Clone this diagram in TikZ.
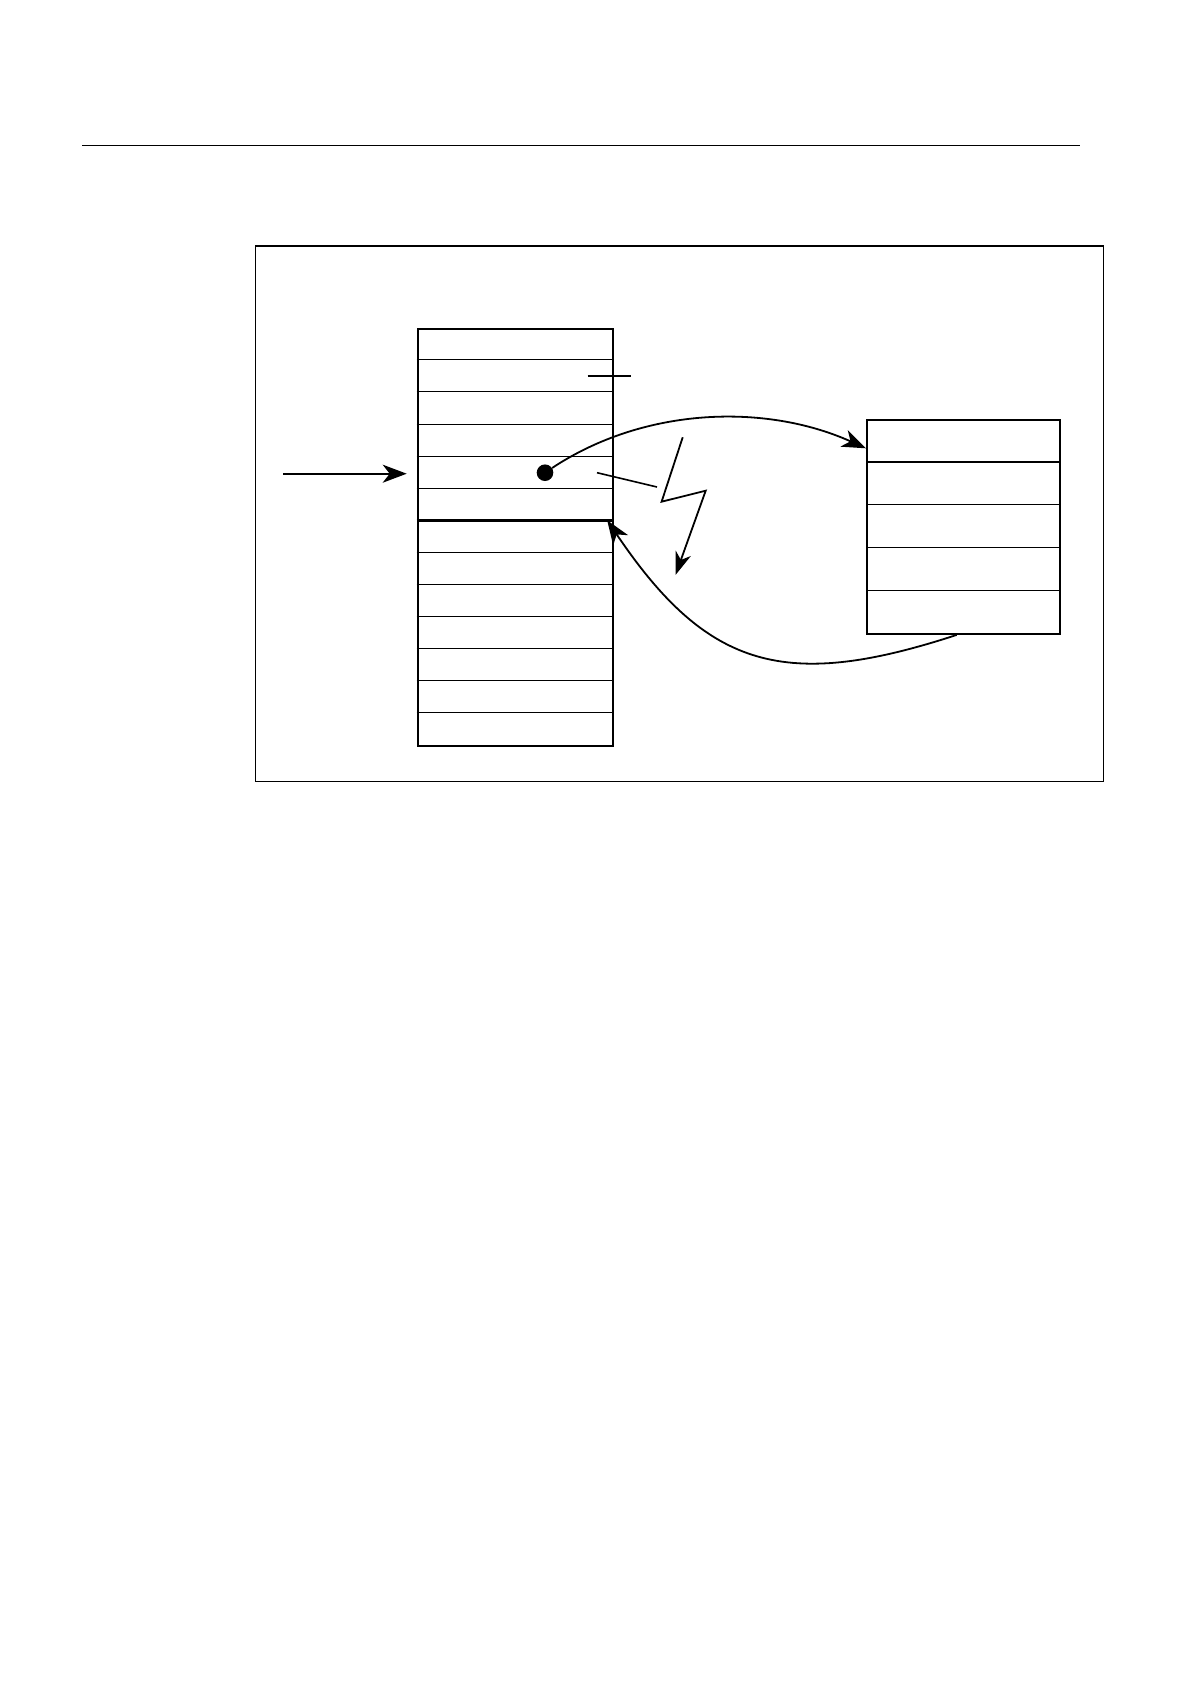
\documentclass[tikz,border=0pt]{standalone}
\usetikzlibrary{arrows.meta}
\begin{document}
\begin{tikzpicture}[x=1pt,y=-1pt,
  boxframe/.style={draw, line width=2.2pt, inner sep=0pt, anchor=north west},
  rowline/.style={line width=1.2pt},
  thickrow/.style={line width=2.4pt},
  conn/.style={line width=1.8pt, -{Stealth[length=24pt,width=18pt,inset=7pt]}},
  plain/.style={line width=1.6pt}
]
\useasboundingbox (0,0) rectangle (1190,1684);
% top rule
\coordinate (ruleL) at (82.3,145.5);
\coordinate (ruleR) at (1080,145.5);
\draw[line width=1.5pt] (ruleL) -- (ruleR);
% outer frame
\node[draw, line width=1.3pt, inner sep=0pt, minimum width=847.7pt, minimum height=535.7pt, anchor=north west] (frame) at (255,245.3) {};
% left stack
\node[boxframe, minimum width=195pt, minimum height=416.7pt] (stack) at (416.7,328) {};
\foreach \y in {31.5,63.5,96.5,128.5,160.5,224.5,256.5,288.5,320.5,352.5,384.5}
  \draw[rowline] ([yshift=-\y pt]stack.north west) -- ([yshift=-\y pt]stack.north east);
\draw[thickrow] ([yshift=-192.5pt]stack.north west) -- ([yshift=-192.5pt]stack.north east);
% right box
\node[boxframe, minimum width=193pt, minimum height=213.7pt] (reg) at (866,419) {};
\foreach \y in {85.5,128.5,171.5}
  \draw[rowline] ([yshift=-\y pt]reg.north west) -- ([yshift=-\y pt]reg.north east);
\draw[thickrow] ([yshift=-42.74pt]reg.north west) -- ([yshift=-42.74pt]reg.north east);
% input arrow
\coordinate (inS) at (283.3,473.7);
\coordinate (inE) at (406.7,473.7);
\draw[conn, line width=2pt] (inS) -- (inE);
% dot
\node[circle, fill=black, minimum size=16.6pt, inner sep=0pt] (dot) at (545,472.7) {};
% tick mark
\coordinate (tickL) at (587.7,375.7);
\coordinate (tickR) at (630.7,375.7);
\draw[plain] (tickL) -- (tickR);
% slanted line
\coordinate (slA) at (597,472.7);
\coordinate (slB) at (657,487);
\draw[plain] (slA) -- (slB);
% lightning
\coordinate (lz1) at (682.7,437.3);
\coordinate (lz2) at (661.6,501.7);
\coordinate (lz3) at (705.7,490.7);
\coordinate (lz4) at (675.5,575);
\draw[line width=1.8pt, line join=miter, -{Stealth[length=23pt,width=16pt,inset=7pt]}] (lz1) -- (lz2) -- (lz3) -- (lz4);
% upper curve: dot -> register box
\coordinate (regIn) at ([yshift=-29.3pt]reg.north west);
\draw[conn] (dot) .. controls (644.6,406.7) and (765.9,403.2) .. (regIn);
% lower curve: register box -> stack
\coordinate (regOut) at ([xshift=90.7pt]reg.south west);
\coordinate (stackIn) at ([xshift=-6.7pt,yshift=-6*32.05pt]stack.north east);
\draw[conn] (regOut) .. controls (785.7,690.9) and (707.6,669.3) .. (stackIn);
\end{tikzpicture}
\end{document}
